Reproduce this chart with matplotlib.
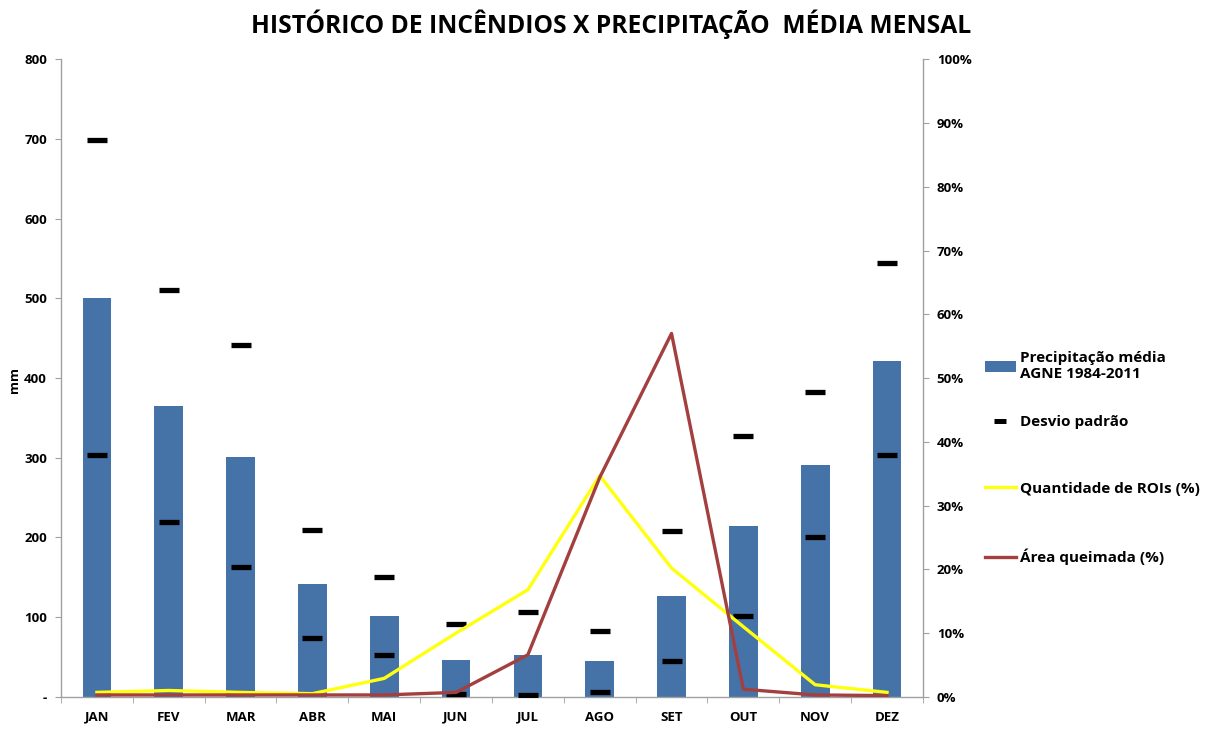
import matplotlib
matplotlib.use("Agg")
import matplotlib.pyplot as plt
from matplotlib.lines import Line2D
from matplotlib.patches import Patch
from matplotlib.ticker import FuncFormatter

months = ["JAN", "FEV", "MAR", "ABR", "MAI", "JUN", "JUL", "AGO", "SET", "OUT", "NOV", "DEZ"]
precip_mm = [500, 365, 301, 142, 101, 46, 53, 45, 126, 214, 291, 422]
desvio_upper = [699, 511, 442, 209, 151, 91, 107, 83, 208, 327, 383, 544]
desvio_lower = [303, 220, 163, 74, 53, 4, 2, 6, 45, 102, 200, 303]
rois_pct = [0.7, 1.0, 0.7, 0.5, 2.9, 10.0, 16.8, 34.7, 20.2, 11.0, 1.9, 0.7]
area_pct = [0.3, 0.3, 0.3, 0.3, 0.3, 0.7, 6.6, 34.4, 57.0, 1.2, 0.3, 0.2]

FONT = ["Open Sans", "DejaVu Sans"]
plt.rcParams["font.family"] = FONT

fig = plt.figure(figsize=(12.08, 7.32), dpi=100)
ax = fig.add_axes([0.0505, 0.048, 0.7135, 0.871])
ax2 = ax.twinx()

x = list(range(len(months)))
bar_color = "#4573A7"
yellow = "#FFFF10"
red = "#A3403F"
ax.bar(x, precip_mm, width=0.4, color=bar_color, zorder=2)
ax.plot(x, desvio_upper, linestyle="none", marker="_", markersize=14, markeredgewidth=3.8,
        color="black", zorder=4)
ax.plot(x, desvio_lower, linestyle="none", marker="_", markersize=14, markeredgewidth=3.8,
        color="black", zorder=4)

ax2.plot(x, rois_pct, color=yellow, linewidth=2.4, zorder=3)
ax2.plot(x, area_pct, color=red, linewidth=2.4, zorder=3)

ax.set_xlim(-0.5, 11.5)
ax.set_ylim(0, 800)
ax2.set_ylim(0, 100)
ax.set_yticks(range(0, 801, 100))
ax2.set_yticks(range(0, 101, 10))
ax.yaxis.set_major_formatter(FuncFormatter(lambda v, p: "-" if v == 0 else f"{int(v)}"))
ax2.yaxis.set_major_formatter(FuncFormatter(lambda v, p: f"{int(v)}%"))

ax.set_xticks(x)
ax.set_xticklabels(months)
ax.set_xticks([i - 0.5 for i in range(13)], minor=True)
ax.tick_params(axis="x", which="major", length=0, pad=10, labelsize=9.5)
ax.tick_params(axis="x", which="minor", length=4, color="#A0A0A0", direction="out")
ax.tick_params(axis="y", length=4, color="#A0A0A0", labelsize=9.5, pad=6)
ax2.tick_params(axis="y", length=4, color="#A0A0A0", labelsize=9.5, pad=6)
for lab in ax.get_xticklabels() + ax.get_yticklabels() + ax2.get_yticklabels():
    lab.set_fontweight("bold")

for a in (ax, ax2):
    a.spines["top"].set_visible(False)
    for s in ("left", "right", "bottom"):
        a.spines[s].set_color("#A0A0A0")
        a.spines[s].set_linewidth(1.0)
ax.spines["right"].set_visible(False)
ax2.spines["left"].set_visible(False)
ax2.spines["bottom"].set_visible(False)

ax.set_ylabel("mm", fontsize=9.5, fontweight="bold")
ax.yaxis.set_label_coords(-0.046, 0.497)

fig.text(0.5055, 1 - 33 / 732, "HISTÓRICO DE INCÊNDIOS X PRECIPITAÇÃO  MÉDIA MENSAL",
         ha="center", va="baseline", fontsize=17.7, fontweight="bold")

prop = {"weight": "bold", "size": 11}
leg1 = fig.legend([Patch(facecolor=bar_color, edgecolor="none")],
                  ["Precipitação média\nAGNE 1984-2011"],
                  loc="center left", bbox_to_anchor=(0.8105, 0.50),
                  frameon=False, prop=prop, handlelength=2.0, handletextpad=0.3,
                  borderaxespad=0.0)
handles = [
    Line2D([], [], linestyle="none", marker="_", markersize=8.5, markeredgewidth=3.6, color="black"),
    Line2D([], [], color=yellow, linewidth=2.4),
    Line2D([], [], color=red, linewidth=2.4),
]
labels = ["Desvio padrão", "Quantidade de ROIs (%)", "Área queimada (%)"]
leg2 = fig.legend(handles, labels, loc="center left", bbox_to_anchor=(0.8105, 0.3306),
                  frameon=False, prop=prop, labelspacing=3.45, handlelength=2.0,
                  handletextpad=0.3, borderaxespad=0.0)

fig.savefig("out.png", dpi=100)
